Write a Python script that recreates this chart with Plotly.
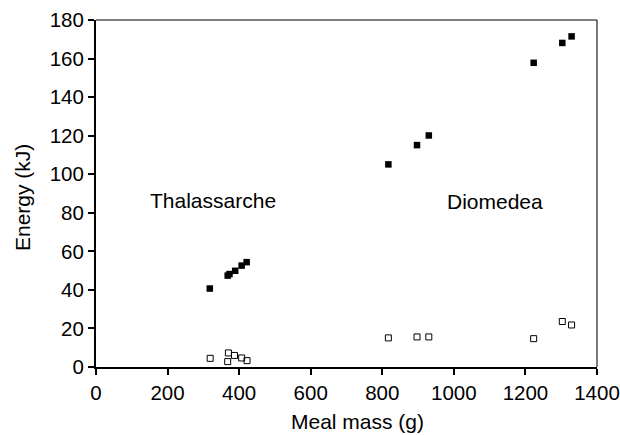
import plotly.graph_objects as go

# Thalassarche
thal_mass_energy = [318, 368, 373, 389, 407, 421]
thal_energy = [40.7, 47.4, 48.2, 49.9, 52.6, 54.4]
thal_mass_other = [319, 368, 370, 387, 407, 422]
thal_other = [4.5, 2.8, 7.3, 6.0, 4.7, 3.3]

# Diomedea
diom_mass = [817, 897, 930, 1223, 1303, 1329]
diom_energy = [105.1, 115.1, 120.1, 157.8, 168.1, 171.5]
diom_other = [15.1, 15.6, 15.6, 14.7, 23.6, 21.8]

x_ticks = [0, 200, 400, 600, 800, 1000, 1200, 1400]
y_ticks = [0, 20, 40, 60, 80, 100, 120, 140, 160, 180]

FONT = "Liberation Sans, Arial, Helvetica, sans-serif"

fig = go.Figure()
filled = dict(symbol="square", size=6.5, color="black", line=dict(width=0))
opened = dict(symbol="square-open", size=6, color="black", line=dict(width=1))

fig.add_trace(go.Scatter(x=thal_mass_energy, y=thal_energy, mode="markers", marker=filled, showlegend=False))
fig.add_trace(go.Scatter(x=diom_mass, y=diom_energy, mode="markers", marker=filled, showlegend=False))
fig.add_trace(go.Scatter(x=thal_mass_other, y=thal_other, mode="markers", marker=opened, showlegend=False))
fig.add_trace(go.Scatter(x=diom_mass, y=diom_other, mode="markers", marker=opened, showlegend=False))

L, R, T, B = 96, 23, 20, 68
W, H = 620, 435
pw = W - L - R
ph = H - T - B

fig.update_layout(
    width=W, height=H,
    margin=dict(l=L, r=R, t=T, b=B, autoexpand=False),
    paper_bgcolor="white", plot_bgcolor="white",
    font=dict(family=FONT, size=20, color="black"),
    xaxis=dict(range=[0, 1400], tickvals=x_ticks, showgrid=False, zeroline=False,
               showline=True, linecolor="black", linewidth=2, automargin=False,
               ticks="outside", ticklen=6, tickwidth=1.5, tickcolor="black",
               tickfont=dict(size=20.5)),
    yaxis=dict(range=[0, 180], tickvals=y_ticks, showgrid=False, zeroline=False,
               showline=True, linecolor="black", linewidth=2, automargin=False,
               ticks="outside", ticklen=6, tickwidth=1.5, tickcolor="black",
               tickfont=dict(size=20.5)),
    shapes=[
        dict(type="line", xref="paper", yref="paper", x0=0, x1=1, y0=1, y1=1,
             line=dict(color="#555555", width=1.5)),
        dict(type="line", xref="paper", yref="paper", x0=1, x1=1, y0=0, y1=1,
             line=dict(color="#222222", width=1.2)),
    ],
    annotations=[
        dict(text="Thalassarche", x=326, y=86.5, xref="x", yref="y", showarrow=False,
             font=dict(size=21)),
        dict(text="Diomedea", x=1115, y=86, xref="x", yref="y", showarrow=False,
             font=dict(size=21)),
        dict(text="Meal mass (g)", x=(357 - L) / pw, y=(H - B - 421) / ph,
             xref="paper", yref="paper", showarrow=False,
             font=dict(size=21), xanchor="center", yanchor="middle"),
        dict(text="Energy (kJ)", x=(22 - L) / pw, y=(H - B - 198) / ph,
             xref="paper", yref="paper", showarrow=False,
             font=dict(size=21), textangle=-90, xanchor="center", yanchor="middle"),
    ],
)

fig.write_html("out.html")
